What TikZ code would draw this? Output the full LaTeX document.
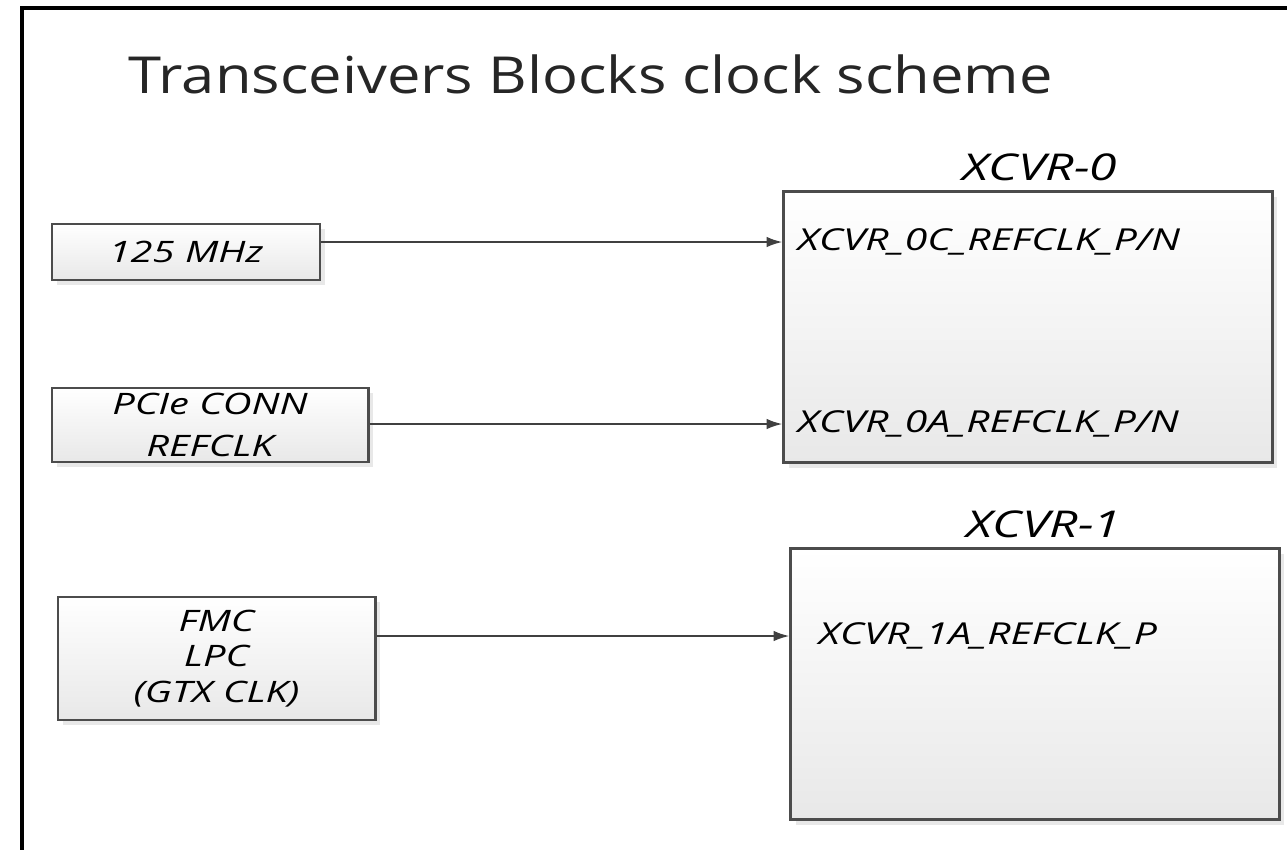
\documentclass[tikz,border=0pt]{standalone}
\usepackage{fontspec}
\setmainfont{Open Sans}
\newfontfamily\etiqueta[FakeStretch=1.35]{Open Sans}
\newfontfamily\titular[FakeStretch=1.17]{Open Sans}
\usetikzlibrary{positioning,shadows,arrows.meta}

\begin{document}
\begin{tikzpicture}[x=0.01cm,y=-0.01cm,
  fuente/.style={draw=black!70,line width=0.8pt,top color=white,bottom color=black!9,
    drop shadow={shadow xshift=1.5pt,shadow yshift=-1.5pt,fill=black!18},
    font=\etiqueta\itshape\fontsize{8.4}{10}\selectfont,align=center,inner sep=0pt},
  bloque/.style={fuente,minimum width=4.88cm,minimum height=2.71cm},
  puerto/.style={anchor=west,inner xsep=0pt,font=\etiqueta\itshape\fontsize{8.6}{10}\selectfont},
  nombre/.style={font=\etiqueta\itshape\fontsize{10.5}{12}\selectfont},
  flecha/.style={-{Latex[length=4.5pt,width=3pt]},draw=black!75,line width=0.6pt}
  ]

  \useasboundingbox (0,0) rectangle (1287,850);
  \draw[line width=1pt] (1287,8) -- (22,8) -- (22,850);

  \node[anchor=base west,inner sep=0pt,font=\titular\fontsize{14.5}{16}\selectfont,text=black!85]
    (titulo) at (128,93) {Transceivers Blocks clock scheme};

  % fuentes de reloj
  \node[fuente,minimum width=2.68cm,minimum height=0.56cm] (f125) at (186,252) {125 MHz};
  \node[fuente,minimum width=3.16cm,minimum height=0.74cm] (pcie) at (210,425)
    {PCIe CONN\\[2pt] REFCLK};
  \node[fuente,minimum width=3.17cm,minimum height=1.23cm] (fmc) at (216.5,658.5)
    {FMC\\ LPC\\ (GTX CLK)};

  % transceptores
  \node[bloque] (x0) at (1028,327) {};
  \node[bloque] (x1) at (1035,684) {};
  \node[nombre,above=-1pt of x0,xshift=0.12cm] (t0) {XCVR-0};
  \node[nombre,above=-1pt of x1,xshift=0.09cm] (t1) {XCVR-1};

  \node[puerto] (p0c) at (797,242) {XCVR\_0C\_REFCLK\_P/N};
  \node[puerto] (p0a) at (797,424) {XCVR\_0A\_REFCLK\_P/N};
  \node[puerto] (p1a) at (818,636) {XCVR\_1A\_REFCLK\_P};

  \draw[flecha] (f125.east |- p0c) -- (x0.west |- p0c);
  \draw[flecha] (pcie.east |- p0a) -- (x0.west |- p0a);
  \draw[flecha] (fmc.east |- p1a) -- (x1.west |- p1a);

\end{tikzpicture}
\end{document}
